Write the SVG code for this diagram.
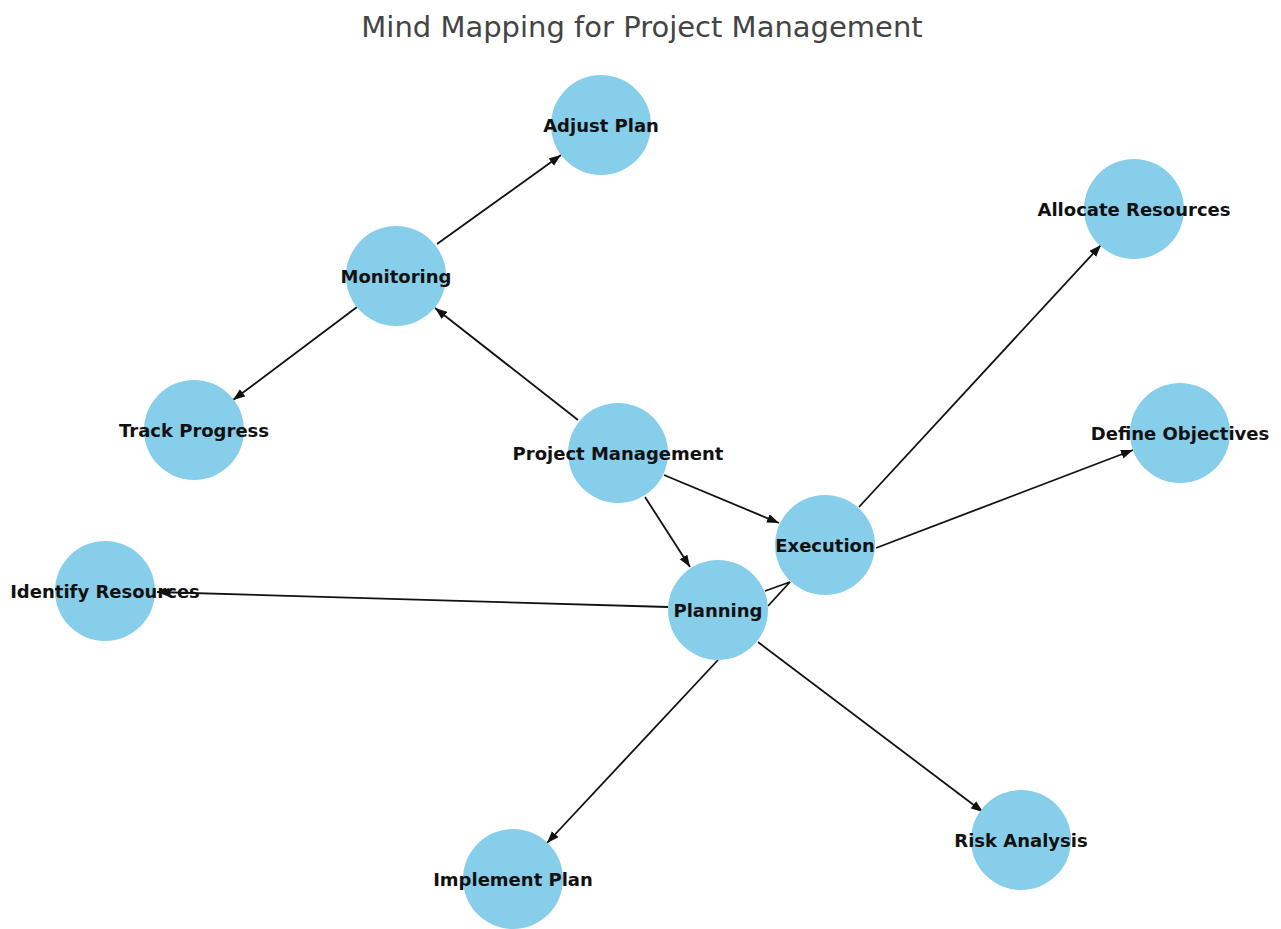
<svg xmlns="http://www.w3.org/2000/svg" width="1281" height="929" viewBox="0 0 1281 929">
<style>
.n{fill:#87CEEB}
.t{font-family:"DejaVu Sans",sans-serif;font-weight:bold;font-size:18px;fill:#111;text-anchor:middle;dominant-baseline:central}
.e{stroke:#111;stroke-width:1.8;fill:none}
.ttl{font-family:"DejaVu Sans",sans-serif;font-size:29px;fill:#444;text-anchor:middle}
</style>
<defs>
<marker id="a" markerUnits="userSpaceOnUse" markerWidth="13" markerHeight="10" refX="12" refY="4.5" orient="auto">
<path d="M0,0 L12,4.5 L0,9 z" fill="#111"/>
</marker>
</defs>
<rect width="1281" height="929" fill="#fff"/>
<text class="ttl" x="642" y="37">Mind Mapping for Project Management</text>
<g id="edges">
<line class="e" x1="578" y1="420" x2="435" y2="308" marker-end="url(#a)"/>
<line class="e" x1="437" y1="244" x2="561" y2="155" marker-end="url(#a)"/>
<line class="e" x1="357" y1="307" x2="233" y2="400" marker-end="url(#a)"/>
<line class="e" x1="664" y1="475" x2="779" y2="523" marker-end="url(#a)"/>
<line class="e" x1="645" y1="497" x2="690" y2="567" marker-end="url(#a)"/>
<line class="e" x1="859" y1="507" x2="1101" y2="245" marker-end="url(#a)"/>
<line class="e" x1="876" y1="548" x2="1133" y2="450" marker-end="url(#a)"/>
<line class="e" x1="668" y1="607" x2="157" y2="592" marker-end="url(#a)"/>
<line class="e" x1="718" y1="660" x2="547" y2="843" marker-end="url(#a)"/>
<line class="e" x1="758" y1="642" x2="983" y2="812" marker-end="url(#a)"/>
<path class="e" d="M765,591 L790,582 L768,606"/>
</g>
<g id="n-pm"><circle class="n" cx="618" cy="453" r="50"/><text class="t" x="618" y="453">Project Management</text></g>
<g id="n-monitoring"><circle class="n" cx="396" cy="276" r="50"/><text class="t" x="396" y="276">Monitoring</text></g>
<g id="n-adjust"><circle class="n" cx="601" cy="125" r="50"/><text class="t" x="601" y="125">Adjust Plan</text></g>
<g id="n-track"><circle class="n" cx="194" cy="430" r="50"/><text class="t" x="194" y="430">Track Progress</text></g>
<g id="n-allocate"><circle class="n" cx="1134" cy="209" r="50"/><text class="t" x="1134" y="209">Allocate Resources</text></g>
<g id="n-define"><circle class="n" cx="1180" cy="433" r="50"/><text class="t" x="1180" y="433">Define Objectives</text></g>
<g id="n-execution"><circle class="n" cx="825" cy="545" r="50"/><text class="t" x="825" y="545">Execution</text></g>
<g id="n-identify"><circle class="n" cx="105" cy="591" r="50"/><text class="t" x="105" y="591">Identify Resources</text></g>
<g id="n-planning"><circle class="n" cx="718" cy="610" r="50"/><text class="t" x="718" y="610">Planning</text></g>
<g id="n-implement"><circle class="n" cx="513" cy="879" r="50"/><text class="t" x="513" y="879">Implement Plan</text></g>
<g id="n-risk"><circle class="n" cx="1021" cy="840" r="50"/><text class="t" x="1021" y="840">Risk Analysis</text></g>
</svg>
